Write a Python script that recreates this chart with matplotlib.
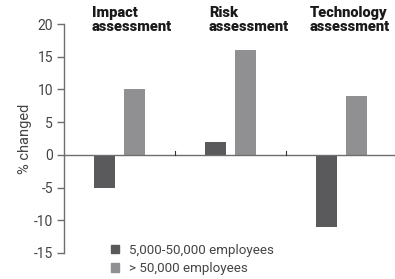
import numpy as np
import matplotlib
matplotlib.use("Agg")
import matplotlib.pyplot as plt
from matplotlib.patches import Patch

plt.rcParams['font.family'] = ['Roboto', 'DejaVu Sans']

# data
categories = ["Impact\nassessment", "Risk\nassessment", "Technology\nassessment"]
small_firms = [-5, 2, -11]   # 5,000-50,000 employees
large_firms = [10, 16, 9]    # > 50,000 employees
series_labels = ["5,000-50,000 employees", "> 50,000 employees"]
y_ticks = [-15, -10, -5, 0, 5, 10, 15, 20]

dark = "#5a5a5c"
light = "#909093"
axis_col = "#6e6e6e"
text_col = "#444444"

W, H = 395, 279
fig = plt.figure(figsize=(W / 100, H / 100), dpi=100)

# axes box in pixels: left spine at x=64, y from 24 (top) to 253 (bottom)
ax_l, ax_r, ax_t, ax_b = 64, 395, 24, 253
ax = fig.add_axes([ax_l / W, 1 - ax_b / H, (ax_r - ax_l) / W, (ax_b - ax_t) / H])

cat_px = 111.0
x = np.arange(len(categories))
bw = 0.19
off = 0.135
ax.bar(x - off, small_firms, bw, color=dark, zorder=2)
ax.bar(x + off, large_firms, bw, color=light, zorder=2)

ax.set_xlim(-0.5, -0.5 + (ax_r - ax_l) / cat_px)
ax.set_ylim(-15, 20)

# zero line with small separators between groups
ax.axhline(0, color=axis_col, lw=1.0, zorder=3)
for b in x[:-1] + 0.5:
    ax.plot([b, b], [0, 0.6], color="#333333", lw=0.8, zorder=3)

for s in ["top", "right", "bottom"]:
    ax.spines[s].set_visible(False)
ax.spines["left"].set_color(axis_col)
ax.spines["left"].set_linewidth(1.0)
ax.set_xticks([])
ax.set_yticks(y_ticks)
ax.set_yticklabels([str(v) for v in y_ticks])
ax.tick_params(axis="y", length=5, width=1.0, color=axis_col,
               labelsize=10, labelcolor=text_col, pad=3)
ax.set_ylabel("% changed", fontsize=10.5, color=text_col, labelpad=1)

# group titles above the plot
title_x = [-0.25, -0.195, -0.29]
for i, (name, dx) in enumerate(zip(categories, title_x)):
    ax.text(i + dx, 1.08, name, transform=ax.get_xaxis_transform(),
            ha="left", va="top", fontsize=10.5, fontweight="heavy",
            color="#1a1a1a", linespacing=1.0)

handles = [Patch(color=dark), Patch(color=light)]
fig.legend(handles, series_labels, loc="upper left",
           bbox_to_anchor=(100 / W, 1 - 233 / H), frameon=False,
           fontsize=9.6, labelcolor=text_col, handlelength=0.6,
           handleheight=0.6, handletextpad=0.75, labelspacing=0.4,
           borderpad=0.3)

fig.savefig("out.png", dpi=100)
